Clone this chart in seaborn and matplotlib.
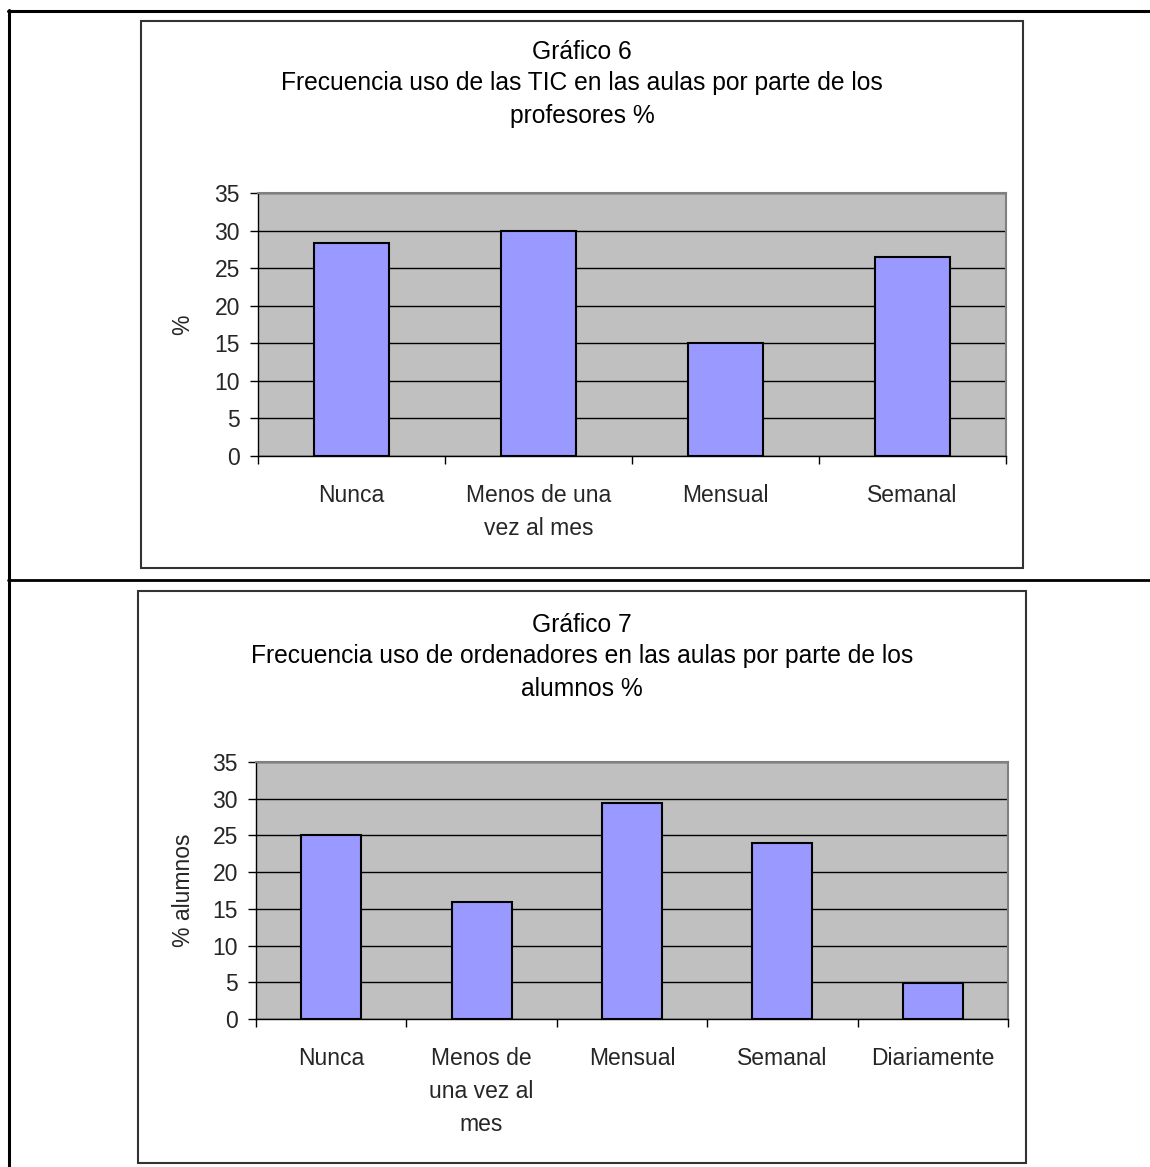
import matplotlib
matplotlib.use("Agg")
import matplotlib.pyplot as plt
from matplotlib.patches import Rectangle
from matplotlib.lines import Line2D
import pandas as pd
import seaborn as sns

# Gráfico 6: teachers
cats6 = ["Nunca", "Menos de una\nvez al mes", "Mensual", "Semanal"]
vals6 = [28.4, 30.0, 15.1, 26.5]
title6 = ["Gráfico 6",
          "Frecuencia uso de las TIC en las aulas por parte de los",
          "profesores %"]
ylabel6 = "%"

# Gráfico 7: students
cats7 = ["Nunca", "Menos de\nuna vez al\nmes", "Mensual", "Semanal", "Diariamente"]
vals7 = [25.1, 15.9, 29.4, 24.0, 4.9]
title7 = ["Gráfico 7",
          "Frecuencia uso de ordenadores en las aulas por parte de los",
          "alumnos %"]
ylabel7 = "% alumnos"

yticks = [0, 5, 10, 15, 20, 25, 30, 35]

sns.set_theme(style="white")
plt.rcParams["font.family"] = ["Liberation Sans", "DejaVu Sans"]

W, H = 1150, 1167
fig = plt.figure(figsize=(W / 100, H / 100), dpi=100)
fig.patch.set_facecolor("white")

FS = 16.5
FS_TITLE = 17.7
BAR = "#9999FF"
PLOT_BG = "#C0C0C0"


def rect(l, t, r, b):
    return [l / W, 1 - b / H, (r - l) / W, (b - t) / H]


def fx(x):
    return x / W


def fy(y):
    return 1 - y / H


def draw_chart(box, area, cats, vals, titles, title_y, ylabel, ylabel_x):
    # outer chart frame
    l, t, r, b = box
    fig.patches.append(Rectangle((fx(l), fy(b)), (r - l) / W, (b - t) / H,
                                 transform=fig.transFigure, fill=False,
                                 edgecolor="#333333", linewidth=1.5))
    cx = (l + r) / 2
    for txt, y in zip(titles, title_y):
        fig.text(fx(cx), fy(y), txt, ha="center", va="center",
                 fontsize=FS_TITLE, color="black")

    ax = fig.add_axes(rect(*area))
    df = pd.DataFrame({"cat": cats, "val": vals})
    sns.barplot(data=df, x="cat", y="val", ax=ax, color=BAR, saturation=1,
                width=0.4, edgecolor="black", linewidth=1.5, zorder=3)
    n = len(cats)
    ax.set_facecolor(PLOT_BG)
    ax.set_xlim(-0.5, n - 0.5)
    ax.set_ylim(0, 35)
    ax.set_yticks(yticks)
    ax.set_yticklabels([str(v) for v in yticks], fontsize=FS)
    ax.yaxis.grid(True, color="black", linewidth=1.0, zorder=0)
    ax.set_axisbelow(True)

    # category labels centred, tick marks at category boundaries
    ax.set_xticks(range(n))
    ax.set_xticklabels(cats, fontsize=FS, linespacing=1.55)
    ax.tick_params(axis="x", which="major", length=0, pad=20)
    ax.set_xticks([i - 0.5 for i in range(n + 1)], minor=True)
    ax.tick_params(axis="x", which="minor", length=6, width=1,
                   direction="out", color="black", bottom=True)
    ax.tick_params(axis="y", length=6, width=1, direction="out",
                   color="black", left=True, pad=7)
    ax.set_xlabel("")
    ax.set_ylabel("")
    fig.text(fx(ylabel_x), fy((area[1] + area[3]) / 2), ylabel,
             rotation=90, ha="center", va="center", fontsize=FS)

    for side in ("left", "bottom"):
        ax.spines[side].set_color("black")
        ax.spines[side].set_linewidth(1.0)
    for side in ("top", "right"):
        ax.spines[side].set_color("#808080")
        ax.spines[side].set_linewidth(1.5)
    return ax


draw_chart((141, 21, 1023, 568), (258, 193, 1006, 456), cats6, vals6,
           title6, (52, 83, 116), ylabel6, 183)
draw_chart((138, 591, 1026, 1163), (256, 762, 1008, 1019), cats7, vals7,
           title7, (625, 656, 689), ylabel7, 183)

# surrounding table rules
for (x0, y0, x1, y1, lw) in [(8, 11, 1150, 11, 2.2),
                             (9, 10, 9, 1167, 2.2),
                             (8, 580, 1150, 580, 2.0)]:
    fig.lines.append(Line2D([fx(x0), fx(x1)], [fy(y0), fy(y1)],
                            transform=fig.transFigure, color="black",
                            linewidth=lw))

fig.savefig("out.png", dpi=100)
